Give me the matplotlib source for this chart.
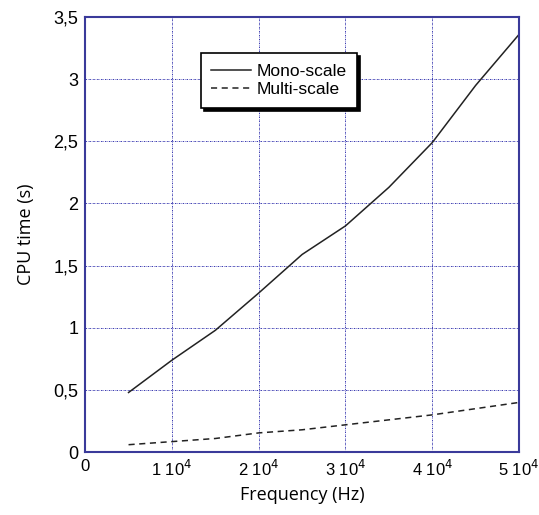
import numpy as np
import matplotlib.pyplot as plt

plt.rcParams['font.family'] = ['Liberation Sans', 'DejaVu Sans']

freq = [5000, 10000, 15000, 20000, 25000, 30000, 35000, 40000, 45000, 50000]
mono = [0.48, 0.74, 0.98, 1.28, 1.59, 1.82, 2.13, 2.49, 2.95, 3.36]
multi = [0.06, 0.085, 0.11, 0.155, 0.18, 0.22, 0.26, 0.30, 0.35, 0.40]

xticks = [0, 10000, 20000, 30000, 40000, 50000]
xticklabels = ['0', '1 10$^4$', '2 10$^4$', '3 10$^4$', '4 10$^4$', '5 10$^4$']
yticks = [0, 0.5, 1, 1.5, 2, 2.5, 3, 3.5]
yticklabels = ['0', '0,5', '1', '1,5', '2', '2,5', '3', '3,5']

fig = plt.figure(figsize=(5.39, 5.15), dpi=100)
ax = fig.add_axes([0.158, 0.122, 0.805, 0.845])

ax.plot(freq, mono, color='#222222', linewidth=1.1, label='Mono-scale')
ax.plot(freq, multi, color='#222222', linewidth=1.1, linestyle=(0, (4, 3)), label='Multi-scale')

ax.set_xlim(0, 50000)
ax.set_ylim(0, 3.5)
ax.set_xticks(xticks)
ax.set_xticklabels(xticklabels, fontsize=12)
ax.set_yticks(yticks)
ax.set_yticklabels(yticklabels, fontsize=13)
ax.tick_params(length=0, pad=5)

ax.grid(True, color='#3838b0', linestyle=(0, (1.5, 1, 0.5, 1)), linewidth=0.7)
for s in ax.spines.values():
    s.set_color('#3a3a9a')
    s.set_linewidth(1.5)

ax.set_xlabel('Frequency (Hz)', fontsize=13, family=['Open Sans', 'DejaVu Sans'], labelpad=5)
ax.set_ylabel('CPU time (s)', fontsize=13, family=['Open Sans', 'DejaVu Sans'], labelpad=13)

leg = ax.legend(loc='upper left', bbox_to_anchor=(0.267, 0.917), fancybox=False,
                shadow={'color': 'black', 'alpha': 1}, edgecolor='black',
                framealpha=1, fontsize=12.5, handlelength=2.3, borderpad=0.6,
                labelspacing=0.2, handletextpad=0.3, borderaxespad=0)
leg.get_frame().set_linewidth(1.2)

fig.savefig('out.png', dpi=100)
